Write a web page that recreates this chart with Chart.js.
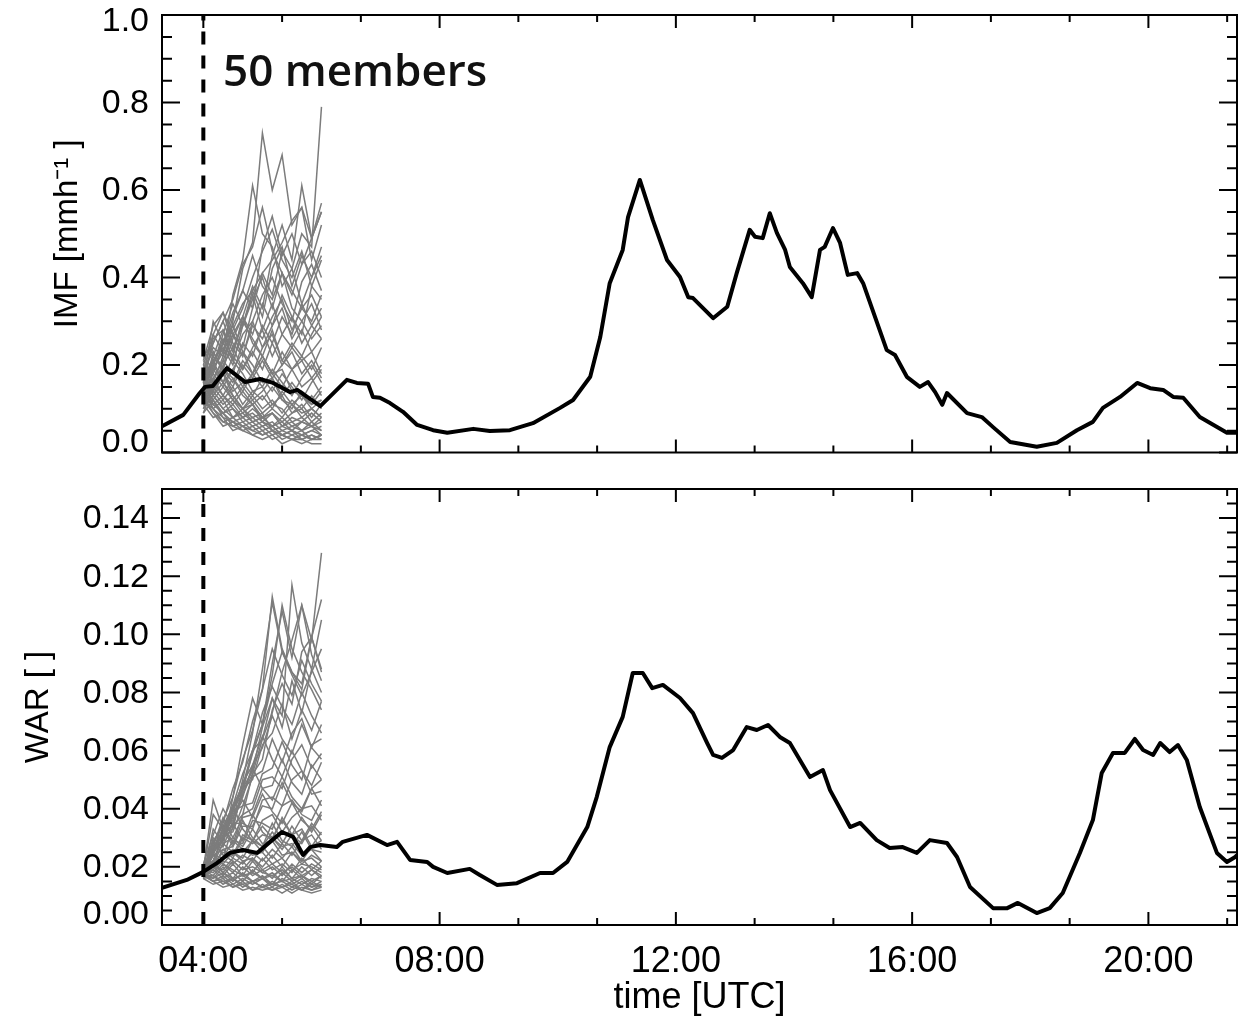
<!DOCTYPE html>
<html><head><meta charset="utf-8">
<script src="https://cdn.jsdelivr.net/npm/chart.js@4.4.1/dist/chart.umd.min.js"></script>
<style>
html,body{margin:0;padding:0;background:#fff;}
#wrap{position:relative;width:1245px;height:1021px;overflow:hidden;background:#fff;}
canvas{position:absolute;left:0;}
#cTop{top:0;}
#cBot{top:470px;}
</style></head><body>
<div id="wrap"><canvas id="cTop" width="1245" height="470"></canvas><canvas id="cBot" width="1245" height="551"></canvas></div>
<script>
// ---------------- DATA ----------------
const forecastStart = "04:00";
const timeRange = [3.3, 21.5];          // hours UTC shown on the x axis
const imfRange = [0, 1.0];
const warRange = [0, 0.15];
const xTickLabels = ["04:00", "08:00", "12:00", "16:00", "20:00"];
const imfTickLabels = ["0.0", "0.2", "0.4", "0.6", "0.8", "1.0"];
const warTickLabels = ["0.00", "0.02", "0.04", "0.06", "0.08", "0.10", "0.12", "0.14"];
const imfTitle = "IMF [mmh\u207B\u00B9 ]";
const warTitle = "WAR [ ]";
const timeTitle = "time [UTC]";
const noteText = "50 members";

// observed (black) series, time in decimal hours
const imfHours = [3.30,3.66,3.94,4.03,4.16,4.40,4.71,4.96,5.18,5.47,5.59,5.98,6.43,6.60,6.79,6.87,6.99,7.16,7.38,7.62,7.89,8.13,8.57,8.85,9.19,9.58,10.04,10.26,10.55,10.72,10.88,11.10,11.19,11.39,11.61,11.85,12.07,12.21,12.29,12.63,12.87,13.03,13.25,13.34,13.47,13.59,13.71,13.85,13.93,14.15,14.30,14.44,14.52,14.66,14.78,14.91,15.07,15.17,15.57,15.71,15.91,16.13,16.27,16.39,16.51,16.59,16.93,17.18,17.37,17.66,18.11,18.45,18.79,19.06,19.23,19.52,19.81,20.03,20.25,20.42,20.59,20.87,21.33,21.50];
const imfValues = [0.060,0.086,0.136,0.150,0.152,0.193,0.161,0.168,0.159,0.138,0.143,0.106,0.166,0.159,0.157,0.127,0.125,0.113,0.093,0.063,0.051,0.045,0.054,0.049,0.051,0.067,0.102,0.120,0.173,0.264,0.387,0.463,0.538,0.623,0.531,0.440,0.401,0.355,0.353,0.307,0.333,0.410,0.509,0.493,0.490,0.547,0.502,0.463,0.424,0.387,0.355,0.463,0.470,0.513,0.479,0.406,0.410,0.387,0.234,0.223,0.173,0.150,0.161,0.138,0.109,0.136,0.090,0.081,0.058,0.024,0.013,0.022,0.051,0.070,0.102,0.127,0.159,0.147,0.143,0.127,0.125,0.081,0.045,0.045];

const warHours = [3.30,3.72,3.99,4.23,4.45,4.67,4.91,5.13,5.33,5.52,5.69,5.81,5.98,6.26,6.36,6.77,7.11,7.28,7.50,7.79,7.89,8.13,8.51,8.68,8.97,9.31,9.70,9.92,10.16,10.50,10.66,10.88,11.10,11.27,11.44,11.60,11.78,12.07,12.29,12.53,12.63,12.78,12.97,13.20,13.37,13.56,13.76,13.93,14.27,14.49,14.61,14.95,15.12,15.40,15.62,15.84,16.08,16.30,16.59,16.76,16.98,17.37,17.61,17.79,18.11,18.33,18.55,18.84,19.06,19.21,19.40,19.60,19.77,19.91,20.08,20.20,20.36,20.50,20.65,20.87,21.16,21.33,21.47,21.50];
const warValues = [0.0128,0.0155,0.0182,0.0213,0.0248,0.0258,0.0248,0.0286,0.0320,0.0303,0.0241,0.0268,0.0275,0.0268,0.0286,0.0310,0.0275,0.0286,0.0224,0.0217,0.0200,0.0179,0.0193,0.0172,0.0138,0.0144,0.0179,0.0179,0.0217,0.0337,0.0440,0.0612,0.0716,0.0867,0.0867,0.0815,0.0826,0.0781,0.0729,0.0626,0.0585,0.0575,0.0602,0.0681,0.0671,0.0688,0.0647,0.0626,0.0509,0.0533,0.0464,0.0337,0.0351,0.0292,0.0265,0.0268,0.0248,0.0292,0.0282,0.0234,0.0131,0.0058,0.0058,0.0076,0.0041,0.0058,0.0110,0.0248,0.0361,0.0523,0.0592,0.0592,0.0640,0.0602,0.0585,0.0626,0.0595,0.0619,0.0568,0.0406,0.0248,0.0217,0.0234,0.0240];

// ensemble members (grey), one value per member time
const memberTimes = ["04:00","04:10","04:20","04:30","04:40","04:50","05:00","05:10","05:20","05:30","05:40","05:50","06:00"];
const imfMembers = [
[0.18,0.24,0.22,0.36,0.44,0.61,0.50,0.47,0.38,0.42,0.34,0.40,0.45],
[0.15,0.22,0.19,0.30,0.42,0.48,0.73,0.60,0.68,0.52,0.56,0.44,0.52],
[0.13,0.20,0.26,0.22,0.31,0.38,0.33,0.45,0.52,0.44,0.61,0.49,0.57],
[0.16,0.14,0.21,0.27,0.24,0.33,0.41,0.36,0.46,0.42,0.50,0.47,0.79],
[0.20,0.27,0.23,0.31,0.37,0.33,0.47,0.54,0.45,0.50,0.43,0.49,0.55],
[0.12,0.19,0.24,0.20,0.29,0.37,0.31,0.42,0.47,0.38,0.45,0.40,0.47],
[0.17,0.25,0.30,0.24,0.29,0.35,0.40,0.33,0.41,0.36,0.43,0.46,0.40],
[0.10,0.16,0.22,0.27,0.22,0.30,0.36,0.40,0.34,0.30,0.39,0.43,0.37],
[0.19,0.23,0.19,0.26,0.31,0.27,0.34,0.29,0.36,0.31,0.27,0.38,0.44],
[0.14,0.27,0.32,0.25,0.22,0.29,0.26,0.31,0.35,0.28,0.33,0.30,0.36],
[0.11,0.17,0.21,0.18,0.25,0.22,0.29,0.25,0.31,0.27,0.34,0.29,0.33],
[0.21,0.18,0.25,0.21,0.27,0.30,0.24,0.29,0.33,0.26,0.30,0.34,0.28],
[0.15,0.20,0.16,0.22,0.19,0.24,0.28,0.22,0.27,0.31,0.25,0.29,0.26],
[0.09,0.15,0.19,0.16,0.21,0.18,0.24,0.27,0.21,0.25,0.22,0.27,0.31],
[0.18,0.14,0.20,0.24,0.19,0.23,0.19,0.25,0.20,0.24,0.28,0.23,0.26],
[0.13,0.18,0.15,0.19,0.23,0.18,0.22,0.18,0.23,0.19,0.22,0.19,0.24],
[0.16,0.13,0.18,0.15,0.20,0.17,0.21,0.17,0.20,0.23,0.18,0.21,0.17],
[0.22,0.19,0.16,0.19,0.15,0.18,0.22,0.18,0.15,0.19,0.21,0.17,0.20],
[0.12,0.16,0.13,0.17,0.14,0.18,0.15,0.19,0.16,0.13,0.17,0.20,0.16],
[0.17,0.14,0.18,0.14,0.16,0.13,0.17,0.14,0.18,0.15,0.12,0.16,0.19],
[0.10,0.13,0.16,0.12,0.15,0.12,0.14,0.17,0.13,0.16,0.13,0.11,0.14],
[0.19,0.15,0.12,0.15,0.11,0.14,0.12,0.15,0.12,0.10,0.14,0.12,0.15],
[0.14,0.17,0.13,0.11,0.14,0.11,0.13,0.10,0.14,0.11,0.13,0.10,0.12],
[0.16,0.12,0.15,0.12,0.10,0.13,0.10,0.12,0.09,0.12,0.10,0.13,0.10],
[0.11,0.14,0.11,0.13,0.10,0.12,0.09,0.11,0.13,0.09,0.11,0.08,0.11],
[0.18,0.13,0.10,0.12,0.09,0.11,0.08,0.10,0.08,0.11,0.08,0.10,0.08],
[0.13,0.11,0.13,0.10,0.08,0.10,0.08,0.09,0.07,0.09,0.10,0.07,0.09],
[0.15,0.12,0.09,0.11,0.08,0.09,0.07,0.09,0.06,0.08,0.07,0.09,0.07],
[0.12,0.10,0.12,0.08,0.10,0.07,0.08,0.06,0.08,0.06,0.07,0.06,0.08],
[0.17,0.13,0.10,0.08,0.09,0.07,0.08,0.06,0.07,0.05,0.07,0.06,0.05],
[0.14,0.11,0.09,0.10,0.07,0.08,0.06,0.07,0.05,0.06,0.05,0.07,0.05],
[0.09,0.12,0.08,0.07,0.08,0.06,0.07,0.05,0.06,0.05,0.04,0.05,0.06],
[0.16,0.11,0.09,0.07,0.06,0.07,0.05,0.06,0.04,0.05,0.04,0.05,0.04],
[0.13,0.09,0.07,0.08,0.06,0.05,0.06,0.04,0.05,0.04,0.05,0.03,0.04],
[0.11,0.08,0.09,0.06,0.07,0.05,0.04,0.05,0.04,0.03,0.04,0.03,0.04],
[0.15,0.10,0.07,0.06,0.05,0.06,0.04,0.05,0.03,0.04,0.03,0.04,0.03],
[0.12,0.09,0.06,0.07,0.05,0.04,0.05,0.03,0.04,0.03,0.02,0.03,0.03],
[0.14,0.10,0.08,0.05,0.06,0.04,0.03,0.04,0.02,0.03,0.03,0.02,0.02],
[0.20,0.16,0.18,0.13,0.10,0.11,0.07,0.06,0.04,0.05,0.03,0.04,0.03],
[0.17,0.21,0.16,0.13,0.10,0.08,0.09,0.05,0.04,0.03,0.04,0.03,0.04],
[0.13,0.23,0.19,0.17,0.13,0.11,0.08,0.09,0.06,0.07,0.05,0.06,0.04],
[0.19,0.26,0.28,0.21,0.18,0.14,0.15,0.11,0.10,0.07,0.08,0.06,0.07],
[0.16,0.30,0.25,0.29,0.23,0.20,0.16,0.17,0.12,0.11,0.09,0.10,0.08],
[0.21,0.29,0.32,0.27,0.31,0.25,0.22,0.18,0.19,0.14,0.13,0.11,0.12],
[0.12,0.22,0.28,0.23,0.30,0.26,0.22,0.28,0.21,0.19,0.15,0.17,0.13],
[0.18,0.20,0.27,0.34,0.29,0.36,0.28,0.34,0.27,0.24,0.21,0.23,0.18],
[0.14,0.21,0.25,0.32,0.37,0.45,0.38,0.35,0.41,0.33,0.30,0.26,0.29],
[0.22,0.25,0.30,0.35,0.43,0.47,0.56,0.46,0.41,0.37,0.33,0.36,0.31],
[0.15,0.19,0.23,0.28,0.33,0.40,0.46,0.51,0.44,0.40,0.46,0.38,0.35],
[0.16,0.20,0.25,0.29,0.34,0.37,0.41,0.44,0.48,0.53,0.56,0.49,0.55]
];
const warMembers = [
[0.019,0.025,0.032,0.036,0.050,0.066,0.088,0.111,0.094,0.086,0.079,0.087,0.095],
[0.018,0.030,0.027,0.044,0.062,0.078,0.069,0.090,0.108,0.092,0.110,0.098,0.128],
[0.020,0.022,0.030,0.033,0.047,0.053,0.068,0.078,0.072,0.117,0.097,0.088,0.105],
[0.017,0.024,0.023,0.034,0.038,0.052,0.057,0.074,0.083,0.076,0.094,0.099,0.088],
[0.019,0.043,0.033,0.041,0.046,0.060,0.064,0.078,0.068,0.084,0.073,0.088,0.080],
[0.021,0.031,0.040,0.034,0.047,0.050,0.062,0.066,0.076,0.064,0.074,0.067,0.077],
[0.017,0.027,0.029,0.039,0.041,0.051,0.053,0.064,0.056,0.066,0.071,0.061,0.069],
[0.019,0.022,0.031,0.032,0.041,0.042,0.052,0.054,0.063,0.055,0.050,0.062,0.064],
[0.018,0.029,0.034,0.028,0.038,0.040,0.050,0.051,0.047,0.057,0.062,0.054,0.059],
[0.020,0.021,0.028,0.030,0.037,0.038,0.047,0.048,0.057,0.049,0.045,0.055,0.050],
[0.017,0.026,0.027,0.035,0.035,0.033,0.043,0.044,0.041,0.050,0.053,0.045,0.046],
[0.019,0.020,0.026,0.027,0.034,0.034,0.041,0.040,0.049,0.042,0.039,0.047,0.050],
[0.018,0.024,0.023,0.029,0.028,0.036,0.035,0.033,0.041,0.043,0.038,0.036,0.043],
[0.016,0.021,0.025,0.024,0.031,0.029,0.036,0.038,0.032,0.037,0.040,0.041,0.036],
[0.020,0.024,0.026,0.023,0.030,0.028,0.031,0.030,0.036,0.031,0.037,0.032,0.038],
[0.018,0.019,0.023,0.026,0.025,0.029,0.027,0.032,0.028,0.034,0.029,0.035,0.031],
[0.017,0.022,0.021,0.025,0.023,0.029,0.025,0.030,0.026,0.031,0.033,0.027,0.032],
[0.019,0.018,0.022,0.021,0.024,0.022,0.027,0.023,0.028,0.024,0.029,0.031,0.026],
[0.016,0.020,0.019,0.023,0.021,0.025,0.022,0.026,0.023,0.027,0.022,0.027,0.029],
[0.018,0.021,0.018,0.022,0.019,0.023,0.020,0.024,0.020,0.025,0.021,0.024,0.022],
[0.017,0.017,0.021,0.018,0.022,0.018,0.023,0.019,0.021,0.018,0.023,0.019,0.022],
[0.019,0.020,0.017,0.021,0.017,0.022,0.018,0.020,0.017,0.021,0.018,0.021,0.019],
[0.017,0.016,0.020,0.016,0.020,0.017,0.019,0.016,0.020,0.016,0.020,0.017,0.020],
[0.016,0.019,0.016,0.018,0.015,0.019,0.016,0.018,0.015,0.019,0.016,0.019,0.016],
[0.018,0.016,0.018,0.015,0.018,0.015,0.017,0.014,0.018,0.015,0.017,0.014,0.017],
[0.017,0.015,0.017,0.014,0.016,0.014,0.016,0.013,0.016,0.014,0.016,0.013,0.015],
[0.016,0.017,0.014,0.016,0.013,0.015,0.013,0.015,0.013,0.015,0.012,0.015,0.013],
[0.018,0.015,0.016,0.013,0.015,0.012,0.014,0.012,0.014,0.012,0.014,0.012,0.014],
[0.016,0.014,0.015,0.013,0.014,0.012,0.013,0.012,0.013,0.011,0.013,0.012,0.013],
[0.017,0.015,0.013,0.014,0.012,0.013,0.012,0.013,0.011,0.013,0.012,0.011,0.012],
[0.019,0.017,0.015,0.016,0.014,0.015,0.013,0.014,0.013,0.014,0.012,0.014,0.013],
[0.018,0.022,0.018,0.016,0.017,0.015,0.016,0.014,0.015,0.013,0.015,0.013,0.014],
[0.020,0.024,0.021,0.019,0.017,0.018,0.016,0.017,0.015,0.016,0.014,0.016,0.015],
[0.019,0.029,0.024,0.022,0.019,0.020,0.018,0.017,0.019,0.016,0.017,0.015,0.017],
[0.017,0.033,0.028,0.025,0.022,0.023,0.019,0.021,0.018,0.020,0.017,0.019,0.017],
[0.019,0.038,0.033,0.029,0.026,0.024,0.025,0.021,0.023,0.019,0.021,0.020,0.018],
[0.018,0.027,0.037,0.030,0.027,0.033,0.028,0.029,0.024,0.025,0.022,0.023,0.020],
[0.020,0.025,0.029,0.041,0.033,0.029,0.034,0.030,0.027,0.028,0.024,0.026,0.022],
[0.017,0.026,0.033,0.027,0.036,0.030,0.027,0.035,0.029,0.027,0.032,0.026,0.025],
[0.018,0.022,0.030,0.035,0.029,0.038,0.032,0.029,0.037,0.031,0.028,0.034,0.029],
[0.019,0.025,0.030,0.037,0.043,0.037,0.045,0.039,0.035,0.042,0.036,0.033,0.039],
[0.018,0.027,0.032,0.040,0.045,0.054,0.047,0.043,0.051,0.044,0.040,0.047,0.041],
[0.019,0.024,0.033,0.039,0.049,0.055,0.065,0.057,0.051,0.060,0.053,0.048,0.056],
[0.016,0.025,0.029,0.038,0.044,0.055,0.061,0.072,0.064,0.059,0.069,0.061,0.057],
[0.019,0.024,0.034,0.041,0.052,0.060,0.073,0.082,0.075,0.069,0.080,0.072,0.066],
[0.018,0.028,0.035,0.047,0.056,0.070,0.081,0.095,0.086,0.079,0.091,0.083,0.077],
[0.019,0.025,0.036,0.044,0.057,0.067,0.081,0.113,0.095,0.087,0.081,0.099,0.087],
[0.017,0.025,0.030,0.040,0.047,0.059,0.069,0.086,0.110,0.095,0.087,0.081,0.074],
[0.018,0.022,0.030,0.035,0.045,0.052,0.064,0.073,0.087,0.098,0.110,0.093,0.084],
[0.019,0.026,0.031,0.041,0.048,0.060,0.069,0.083,0.094,0.087,0.083,0.099,0.112]
];

// ---------------- RENDERING ----------------
const toHours = s => { const p = s.split(':').map(Number); return p[0] + p[1] / 60; };
const LABEL_FONT = 'Liberation Sans, Arial, sans-serif';

const axisBox = {
  id: 'axisBox',
  afterDraw(chart, args, o) {
    const ctx = chart.ctx, xs = chart.scales.x, ys = chart.scales.y;
    const {left, right, top, bottom} = chart.chartArea;
    ctx.save();
    ctx.strokeStyle = '#000';
    ctx.lineWidth = 2;
    ctx.strokeRect(left, top, right - left, bottom - top);
    ctx.beginPath();
    const xMinor = o.xMajor / o.xMinorDiv;
    for (let k = Math.ceil(xs.min / xMinor - 1e-9); k * xMinor <= xs.max + 1e-9; k++) {
      const px = xs.getPixelForValue(k * xMinor);
      const len = (k % o.xMinorDiv === 0) ? o.xMajorLen : o.xMinorLen;
      ctx.moveTo(px, bottom); ctx.lineTo(px, bottom - len);
      ctx.moveTo(px, top); ctx.lineTo(px, top + len);
    }
    const yMinor = o.yMajor / o.yMinorDiv;
    for (let k = Math.ceil(ys.min / yMinor - 1e-9); k * yMinor <= ys.max + 1e-9; k++) {
      const py = ys.getPixelForValue(k * yMinor);
      const len = (k % o.yMinorDiv === 0) ? o.yMajorLen : o.yMinorLen;
      ctx.moveTo(left, py); ctx.lineTo(left + len, py);
      ctx.moveTo(right, py); ctx.lineTo(right - len, py);
    }
    ctx.stroke();
    ctx.fillStyle = '#000';
    ctx.font = o.labelSize + 'px ' + LABEL_FONT;
    ctx.textAlign = 'right';
    ctx.textBaseline = 'middle';
    o.yLabels.forEach(lbl => {
      let py = ys.getPixelForValue(parseFloat(lbl)) + 1;
      py = Math.min(Math.max(py, top + 7), bottom - 10);
      ctx.fillText(lbl, left - 13, py);
    });
    if (o.note) {
      ctx.font = o.noteFont;
      ctx.textAlign = 'left';
      ctx.textBaseline = 'alphabetic';
      ctx.fillStyle = '#111';
      ctx.fillText(o.note, left + 61, top + 71);
    }
    ctx.restore();
  }
};

function buildDatasets(hours, values, members, yMax) {
  const ds = [];
  ds.push({data: hours.map((h, i) => ({x: h, y: values[i]})), borderColor: '#000', borderWidth: 4,
           pointRadius: 0, tension: 0, order: 0, borderJoinStyle: 'round'});
  const fs = toHours(forecastStart);
  ds.push({data: [{x: fs, y: 0}, {x: fs, y: yMax}], borderColor: '#000', borderWidth: 4,
           borderDash: [13, 11], pointRadius: 0, order: 1});
  members.forEach(m => ds.push({data: m.map((v, i) => ({x: toHours(memberTimes[i]), y: v})),
           borderColor: '#7c7c7c', borderWidth: 1.5, pointRadius: 0, tension: 0, order: 2}));
  return ds;
}

function yAxis(range, title, titlePad) {
  return {
    min: range[0], max: range[1],
    grid: {display: false, drawTicks: false}, border: {display: false},
    ticks: {display: false},
    title: {display: true, text: title, color: '#000', font: {family: LABEL_FONT, size: 33},
            padding: {top: titlePad, bottom: 0}},
    afterFit: s => { s.width = 162; }
  };
}

const common = {
  responsive: false, animation: false, events: [],
  plugins: {legend: {display: false}, tooltip: {enabled: false}}
};

new Chart(document.getElementById('cTop'), {
  type: 'line',
  data: {datasets: buildDatasets(imfHours, imfValues, imfMembers, imfRange[1])},
  options: Object.assign({}, common, {
    layout: {padding: {top: 15, right: 8, bottom: 17.5, left: 0}},
    plugins: Object.assign({}, common.plugins, {
      axisBox: {xMajor: 4, xMinorDiv: 3, xMajorLen: 13, xMinorLen: 7,
                yMajor: 0.2, yMinorDiv: 4, yMajorLen: 18, yMinorLen: 10,
                yLabels: imfTickLabels, labelSize: 34,
                note: noteText, noteFont: '600 44px "Open Sans", sans-serif'}
    }),
    scales: {
      x: {type: 'linear', min: timeRange[0], max: timeRange[1], display: false},
      y: yAxis(imfRange, imfTitle, 48)
    }
  }),
  plugins: [axisBox]
});

new Chart(document.getElementById('cBot'), {
  type: 'line',
  data: {datasets: buildDatasets(warHours, warValues, warMembers, warRange[1])},
  options: Object.assign({}, common, {
    layout: {padding: {top: 19, right: 8, bottom: 0, left: 0}},
    plugins: Object.assign({}, common.plugins, {
      axisBox: {xMajor: 4, xMinorDiv: 3, xMajorLen: 13, xMinorLen: 7,
                yMajor: 0.02, yMinorDiv: 4, yMajorLen: 18, yMinorLen: 10,
                yLabels: warTickLabels, labelSize: 34, note: null}
    }),
    scales: {
      x: {
        type: 'linear', min: timeRange[0], max: timeRange[1],
        grid: {display: false, drawTicks: false}, border: {display: false},
        ticks: {stepSize: 4, includeBounds: false, autoSkip: false, maxRotation: 0, padding: 15,
                color: '#000', font: {family: LABEL_FONT, size: 36},
                callback: v => xTickLabels.find(l => Math.abs(toHours(l) - v) < 1e-6) || ''},
        title: {display: true, text: timeTitle, color: '#000', font: {family: LABEL_FONT, size: 36},
                padding: {top: 0, bottom: 1}},
        afterFit: s => { s.height = 96; }
      },
      y: yAxis(warRange, warTitle, 19)
    }
  }),
  plugins: [axisBox]
});
</script>
</body></html>
